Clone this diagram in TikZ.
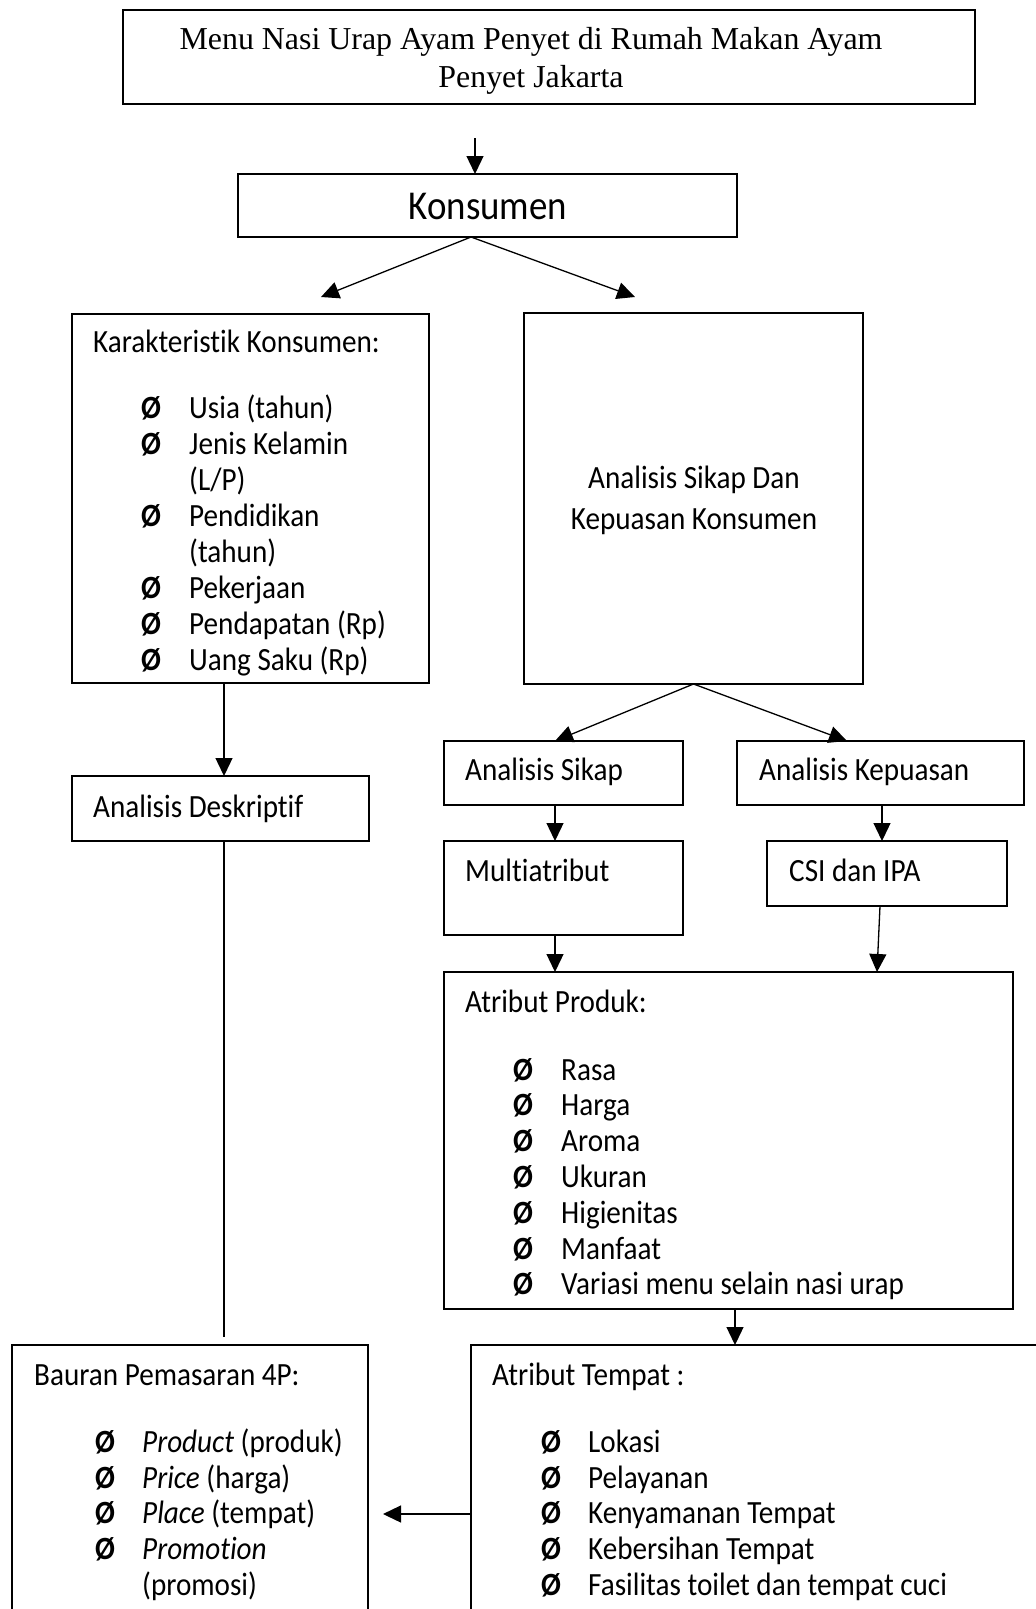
\documentclass[tikz,border=0pt]{standalone}
\usepackage{fontspec}
\setmainfont{Carlito}[FakeStretch=0.9, Ligatures=NoCommon]
\newfontfamily\seriffont{Liberation Serif}
\usetikzlibrary{arrows.meta}
\begin{document}
\begin{tikzpicture}[x=1pt,y=-1pt,
  box/.style={draw, line width=1.4pt, anchor=north west, inner sep=0pt, outer sep=0pt},
  lbl/.style={anchor=base west, inner sep=0pt, font=\fontsize{32.4}{36}\selectfont},
  blt/.style={anchor=base west, inner sep=0pt, font=\fontsize{32.4}{36}\selectfont\bfseries},
  ttl/.style={anchor=base, inner sep=0pt, font=\seriffont\fontsize{31.9}{36}\selectfont},
  arr/.style={line width=1.3pt, -{Triangle[length=18pt,width=17pt]}},
  ln/.style={line width=1.3pt}]
\useasboundingbox (0,0) rectangle (1036,1609);
\clip (0,0) rectangle (1036,1609);
% boxes
\node[box, minimum width=852pt, minimum height=94pt] (top) at (123,10) {};
\node[box, minimum width=499pt, minimum height=63pt] (kon) at (238,174) {};
\node[box, minimum width=357pt, minimum height=369pt] (kar) at (72,314) {};
\node[box, minimum width=339pt, minimum height=371pt] (ask) at (524,313) {};
\node[box, minimum width=297pt, minimum height=65pt] (des) at (72,776) {};
\node[box, minimum width=239pt, minimum height=64pt] (sik) at (444,741) {};
\node[box, minimum width=287pt, minimum height=64pt] (kep) at (737,741) {};
\node[box, minimum width=239pt, minimum height=94pt] (mul) at (444,841) {};
\node[box, minimum width=240pt, minimum height=65pt] (csi) at (767,841) {};
\node[box, minimum width=569pt, minimum height=337pt] (pro) at (444,972) {};
\node[box, minimum width=356pt, minimum height=400pt] (bau) at (12,1345) {};
\node[box, minimum width=650pt, minimum height=400pt] (tem) at (471,1345) {};
% texts
\node[ttl] (t1) at (531,49) {Menu Nasi Urap Ayam Penyet di Rumah Makan Ayam};
\node[ttl] (t2) at (531,87) {Penyet Jakarta};
\node[anchor=base, inner sep=0pt, font=\fontsize{41}{49}\selectfont] (tk) at (488,219) {Konsumen};
% karakteristik
\node[lbl] (kt) at (93,352) {Karakteristik Konsumen:};
\node[blt] (kb1) at (141,418) {Ø}; \node[lbl] (k1) at (189,418) {Usia (tahun)};
\node[blt] (kb2) at (141,454) {Ø}; \node[lbl] (k2) at (189,454) {Jenis Kelamin};
\node[lbl] (k2b) at (189,490) {(L/P)};
\node[blt] (kb3) at (141,526) {Ø}; \node[lbl] (k3) at (189,526) {Pendidikan};
\node[lbl] (k3b) at (189,562) {(tahun)};
\node[blt] (kb4) at (141,598) {Ø}; \node[lbl] (k4) at (189,598) {Pekerjaan};
\node[blt] (kb5) at (141,634) {Ø}; \node[lbl] (k5) at (189,634) {Pendapatan (Rp)};
\node[blt] (kb6) at (141,670) {Ø}; \node[lbl] (k6) at (189,670) {Uang Saku (Rp)};
% analisis sikap dan kepuasan
\node[anchor=base, inner sep=0pt, font=\fontsize{32.4}{36}\selectfont] (a1) at (694,488) {Analisis Sikap Dan};
\node[anchor=base, inner sep=0pt, font=\fontsize{32.4}{36}\selectfont] (a2) at (694,529) {Kepuasan Konsumen};
\node[lbl] (td) at (93,817) {Analisis Deskriptif};
\node[lbl] (ts) at (465,780) {Analisis Sikap};
\node[lbl] (tkp) at (759,780) {Analisis Kepuasan};
\node[lbl] (tm) at (465,881) {Multiatribut};
\node[lbl] (tc) at (789,881) {CSI dan IPA};
% atribut produk
\node[lbl] (pt) at (465,1012) {Atribut Produk:};
\foreach \t [count=\i] in {Rasa,Harga,Aroma,Ukuran,Higienitas,Manfaat,Variasi menu selain nasi urap}{
  \node[blt] (pb\i) at (513,{1080+35.8*(\i-1)}) {Ø};
  \node[lbl] (p\i) at (561,{1080+35.8*(\i-1)}) {\t};
}
% bauran
\node[lbl] (bt) at (34,1385) {Bauran Pemasaran 4P:};
\node[blt] (bb1) at (95,1452) {Ø}; \node[lbl] (b1) at (142,1452) {\textit{Product} (produk)};
\node[blt] (bb2) at (95,1488) {Ø}; \node[lbl] (b2) at (142,1488) {\textit{Price} (harga)};
\node[blt] (bb3) at (95,1523) {Ø}; \node[lbl] (b3) at (142,1523) {\textit{Place} (tempat)};
\node[blt] (bb4) at (95,1559) {Ø}; \node[lbl] (b4) at (142,1559) {\textit{Promotion}};
\node[lbl] (b4b) at (142,1595) {(promosi)};
% atribut tempat
\node[lbl] (tt) at (492,1385) {Atribut Tempat :};
\node[blt] (mb1) at (541,1452) {Ø}; \node[lbl] (m1) at (588,1452) {Lokasi};
\node[blt] (mb2) at (541,1488) {Ø}; \node[lbl] (m2) at (588,1488) {Pelayanan};
\node[blt] (mb3) at (541,1523) {Ø}; \node[lbl] (m3) at (588,1523) {Kenyamanan Tempat};
\node[blt] (mb4) at (541,1559) {Ø}; \node[lbl] (m4) at (588,1559) {Kebersihan Tempat};
\node[blt] (mb5) at (541,1595) {Ø}; \node[lbl] (m5) at (588,1595) {Fasilitas toilet dan tempat cuci};
% coordinates
\coordinate (s0) at (475,138);
\coordinate (c0) at (471,237);
\coordinate (e1) at (321,297);
\coordinate (e2) at (635,297);
\coordinate (xL) at (224,0);
\coordinate (xS) at (555,0);
\coordinate (xK) at (847,0);
\coordinate (xC) at (882,0);
\coordinate (xT) at (735,0);
\coordinate (f1) at (224,1337);
\coordinate (g1) at (383,1514);
\coordinate (h1) at (880,906);
\coordinate (h2) at (877,972);
% connectors
\draw[arr] (s0) -- (kon.north -| s0);
\draw[arr] (c0) -- (e1);
\draw[arr] (c0) -- (e2);
\draw[arr] (kar.south -| xL) -- (des.north -| xL);
\draw[ln] (des.south -| xL) -- (f1);
\draw[arr] (ask.south) -- (sik.north -| xS);
\draw[arr] (ask.south) -- (kep.north -| xK);
\draw[arr] (sik.south -| xS) -- (mul.north -| xS);
\draw[arr] (kep.south -| xC) -- (csi.north -| xC);
\draw[arr] (mul.south -| xS) -- (pro.north -| xS);
\draw[arr] (h1) -- (h2);
\draw[arr] (pro.south -| xT) -- (tem.north -| xT);
\draw[arr] (tem.west |- g1) -- (g1);
\end{tikzpicture}
\end{document}
